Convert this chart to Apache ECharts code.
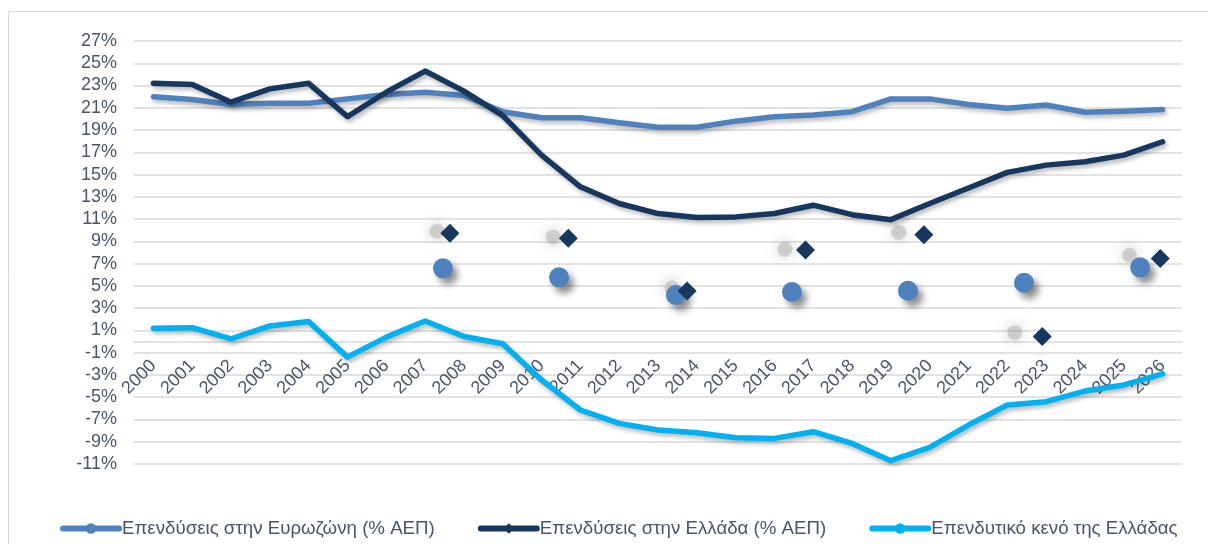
<!DOCTYPE html>
<html>
<head>
<meta charset="utf-8">
<script src="https://cdn.jsdelivr.net/npm/echarts@6/dist/echarts.min.js"></script>
<style>
  html, body { margin: 0; padding: 0; background: #fff; }
  #chart { width: 1208px; height: 544px; }
</style>
</head>
<body>
<div id="chart"></div>
<script>
// Data
const years = ['2000', '2001', '2002', '2003', '2004', '2005', '2006', '2007', '2008', '2009',
    '2010', '2011', '2012', '2013', '2014', '2015', '2016', '2017', '2018', '2019',
    '2020', '2021', '2022', '2023', '2024', '2025', '2026'];
const euroInvest = [22.0, 21.75, 21.3, 21.4, 21.4, 21.8, 22.2, 22.4, 22.1, 20.65,
    20.1, 20.1, 19.65, 19.25, 19.25, 19.8, 20.2, 20.35, 20.65, 21.8,
    21.8, 21.3, 20.95, 21.25, 20.6, 20.7, 20.85];
const greeceInvest = [23.2, 23.1, 21.5, 22.7, 23.2, 20.2, 22.4, 24.3, 22.5, 20.3,
    16.75, 13.9, 12.4, 11.5, 11.15, 11.2, 11.5, 12.25, 11.4, 10.95,
    12.4, 13.8, 15.2, 15.85, 16.15, 16.75, 17.95];
const greeceGap = [1.2, 1.25, 0.25, 1.4, 1.8, -1.4, 0.4, 1.85, 0.45, -0.2,
    -3.45, -6.15, -7.35, -7.95, -8.2, -8.65, -8.7, -8.1, -9.15, -10.7,
    -9.5, -7.5, -5.7, -5.4, -4.45, -3.9, -2.9];

// Loose markers floating in the plot (x in category units)
const dotX = [7.46, 10.45, 13.46, 16.45, 19.44, 22.43, 25.42];
const dotY = [6.58, 5.77, 4.18, 4.45, 4.56, 5.28, 6.67];
const diamondX = [7.64, 10.69, 13.75, 16.8, 19.85, 22.9, 25.94];
const diamondY = [9.72, 9.27, 4.54, 8.22, 9.6, 0.45, 7.47];
const blobX = [7.31, 10.3, 13.36, 16.27, 19.2, 22.19, 25.15];
const blobY = [9.9, 9.4, 4.8, 8.3, 9.8, 0.8, 7.75];

const yTicks = { min: -11, max: 27, step: 2 };

const names = [
    'Επενδύσεις στην Ευρωζώνη (% ΑΕΠ)',
    'Επενδύσεις στην Ελλάδα (% ΑΕΠ)',
    'Επενδυτικό κενό της Ελλάδας'
];
const colors = ['#4f81bd', '#17375e', '#00b0f0'];

function pairs(xs, ys) {
    return xs.map(function(x, i) { return [x, ys[i]]; });
}

const chart = echarts.init(document.getElementById('chart'));
const font = '"Liberation Sans", Arial, sans-serif';
const textColor = '#4a5567';
const fontSize = 18;
const gridBox = { left: 134, right: 26, top: 41, bottom: 80 };
const lineShadow = {
    shadowColor: 'rgba(0,0,0,0.28)',
    shadowBlur: 4,
    shadowOffsetX: 2,
    shadowOffsetY: 3
};

function lineSeries(idx, data, symbol) {
    return {
        name: names[idx],
        type: 'line',
        data: data,
        symbol: symbol,
        symbolSize: 13,
        showSymbol: false,
        lineStyle: Object.assign({ width: 5.5, color: colors[idx], cap: 'round', join: 'round' }, lineShadow),
        itemStyle: { color: colors[idx] },
        z: 3
    };
}

const option = {
    animation: false,
    textStyle: { fontFamily: font },
    graphic: [{
        type: 'rect',
        shape: { x: 8.5, y: 11.5, width: 1300, height: 600 },
        style: { fill: 'none', stroke: '#d9d9d9', lineWidth: 1 },
        silent: true
    }],
    legend: {
        data: names,
        left: 55,
        top: 514,
        itemWidth: 56,
        itemHeight: 13,
        itemGap: 43,
        lineStyle: { width: 6, cap: 'round', shadowBlur: 0, shadowOffsetX: 0, shadowOffsetY: 0 },
        itemStyle: { shadowBlur: 0 },
        textStyle: { fontSize: 18.7, color: textColor, fontFamily: font, padding: [0, 0, 0, -2] }
    },
    grid: [
        Object.assign({}, gridBox),
        Object.assign({}, gridBox),
        // label strip: bottom edge sits on the zero line
        { left: 134, right: 26, top: 41, bottom: 203 }
    ],
    xAxis: [{
        type: 'category',
        gridIndex: 0,
        data: years,
        boundaryGap: true,
        axisLine: { onZero: true, lineStyle: { color: '#d9d9d9', width: 1.5 } },
        axisTick: { show: false },
        axisLabel: { show: false }
    }, {
        type: 'value',
        gridIndex: 1,
        min: -0.5,
        max: 26.5,
        show: false
    }, {
        type: 'category',
        gridIndex: 2,
        data: years,
        boundaryGap: true,
        axisLine: { show: false },
        axisTick: { show: false },
        axisLabel: {
            interval: 0,
            rotate: 45,
            margin: 22,
            fontSize: fontSize,
            color: textColor,
            fontFamily: font
        }
    }],
    yAxis: [{
        type: 'value',
        gridIndex: 0,
        min: yTicks.min,
        max: yTicks.max,
        interval: yTicks.step,
        axisLine: { show: false },
        axisTick: { show: false },
        axisLabel: {
            formatter: '{value}%',
            fontSize: fontSize,
            color: textColor,
            margin: 17,
            fontFamily: font
        },
        splitLine: { lineStyle: { color: '#d9d9d9', width: 1.5 } }
    }, {
        type: 'value',
        gridIndex: 1,
        min: yTicks.min,
        max: yTicks.max,
        show: false
    }, {
        type: 'value',
        gridIndex: 2,
        show: false
    }],
    series: [
        lineSeries(0, euroInvest, 'circle'),
        lineSeries(1, greeceInvest, 'diamond'),
        lineSeries(2, greeceGap, 'circle'),
        {
            type: 'scatter',
            xAxisIndex: 1,
            yAxisIndex: 1,
            data: pairs(blobX, blobY),
            symbol: 'circle',
            symbolSize: 15,
            itemStyle: {
                color: 'rgba(150,150,150,0.35)',
                opacity: 1,
                shadowColor: 'rgba(110,110,110,1)',
                shadowBlur: 14
            },
            z: 2
        },
        {
            type: 'scatter',
            xAxisIndex: 1,
            yAxisIndex: 1,
            data: pairs(dotX, dotY),
            symbol: 'circle',
            symbolSize: 20,
            itemStyle: {
                color: colors[0],
                opacity: 1,
                shadowColor: 'rgba(0,0,0,0.45)',
                shadowBlur: 7,
                shadowOffsetX: 5,
                shadowOffsetY: 6
            },
            z: 4
        },
        {
            type: 'scatter',
            xAxisIndex: 1,
            yAxisIndex: 1,
            data: pairs(diamondX, diamondY),
            symbol: 'diamond',
            symbolSize: 19,
            itemStyle: { color: colors[1], opacity: 1 },
            z: 5
        }
    ]
};
chart.setOption(option);
</script>
</body>
</html>
